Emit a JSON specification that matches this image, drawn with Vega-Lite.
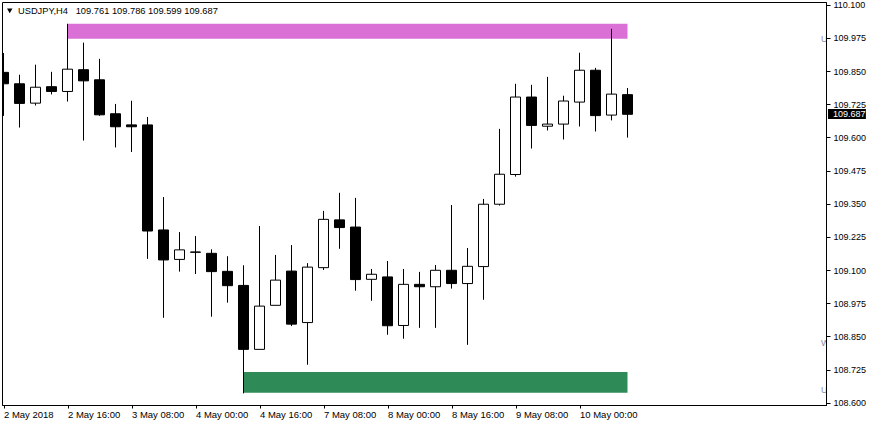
{
  "$schema": "https://vega.github.io/schema/vega-lite/v6.json",
  "width": 824,
  "height": 403,
  "autosize": {"type": "none"},
  "padding": {"left": 2, "top": 2, "right": 43, "bottom": 21},
  "background": "white",
  "config": {
    "view": {"stroke": "black", "strokeWidth": 1},
    "scale": {"continuousPadding": 0},
    "axis": {"grid": false, "domainColor": "black", "tickColor": "black", "labelColor": "black", "labelFont": "Liberation Sans", "domainWidth": 1, "tickWidth": 1, "title": null, "labelOverlap": false, "labelFlush": false},
    "axisY": {"labelOverlap": false, "tickCount": 30},
    "axisX": {"tickCount": 30},
    "text": {"font": "Liberation Sans"}
  },
  "datasets": {
    "candles": [
      {"i": 0, "o": 109.845, "h": 109.918, "l": 109.681, "c": 109.802},
      {"i": 1, "o": 109.802, "h": 109.836, "l": 109.637, "c": 109.728},
      {"i": 2, "o": 109.729, "h": 109.874, "l": 109.720, "c": 109.789},
      {"i": 3, "o": 109.791, "h": 109.847, "l": 109.762, "c": 109.773},
      {"i": 4, "o": 109.773, "h": 110.028, "l": 109.735, "c": 109.857},
      {"i": 5, "o": 109.855, "h": 109.957, "l": 109.588, "c": 109.813},
      {"i": 6, "o": 109.817, "h": 109.896, "l": 109.681, "c": 109.685},
      {"i": 7, "o": 109.689, "h": 109.726, "l": 109.562, "c": 109.640},
      {"i": 8, "o": 109.647, "h": 109.738, "l": 109.545, "c": 109.640},
      {"i": 9, "o": 109.647, "h": 109.677, "l": 109.142, "c": 109.247},
      {"i": 10, "o": 109.251, "h": 109.375, "l": 108.920, "c": 109.138},
      {"i": 11, "o": 109.140, "h": 109.243, "l": 109.094, "c": 109.176},
      {"i": 12, "o": 109.168, "h": 109.228, "l": 109.085, "c": 109.167},
      {"i": 13, "o": 109.163, "h": 109.178, "l": 108.924, "c": 109.094},
      {"i": 14, "o": 109.095, "h": 109.152, "l": 108.977, "c": 109.041},
      {"i": 15, "o": 109.042, "h": 109.118, "l": 108.635, "c": 108.801},
      {"i": 16, "o": 108.801, "h": 109.266, "l": 108.801, "c": 108.964},
      {"i": 17, "o": 108.967, "h": 109.157, "l": 108.967, "c": 109.062},
      {"i": 18, "o": 109.096, "h": 109.194, "l": 108.889, "c": 108.896},
      {"i": 19, "o": 108.902, "h": 109.126, "l": 108.743, "c": 109.111},
      {"i": 20, "o": 109.109, "h": 109.323, "l": 109.100, "c": 109.291},
      {"i": 21, "o": 109.289, "h": 109.391, "l": 109.180, "c": 109.260},
      {"i": 22, "o": 109.262, "h": 109.372, "l": 109.022, "c": 109.064},
      {"i": 23, "o": 109.065, "h": 109.104, "l": 108.984, "c": 109.084},
      {"i": 24, "o": 109.074, "h": 109.134, "l": 108.856, "c": 108.890},
      {"i": 25, "o": 108.891, "h": 109.104, "l": 108.841, "c": 109.046},
      {"i": 26, "o": 109.046, "h": 109.093, "l": 108.882, "c": 109.037},
      {"i": 27, "o": 109.037, "h": 109.119, "l": 108.882, "c": 109.099},
      {"i": 28, "o": 109.099, "h": 109.345, "l": 109.030, "c": 109.049},
      {"i": 29, "o": 109.049, "h": 109.183, "l": 108.818, "c": 109.114},
      {"i": 30, "o": 109.113, "h": 109.368, "l": 108.988, "c": 109.348},
      {"i": 31, "o": 109.348, "h": 109.632, "l": 109.343, "c": 109.461},
      {"i": 32, "o": 109.460, "h": 109.802, "l": 109.452, "c": 109.752},
      {"i": 33, "o": 109.752, "h": 109.798, "l": 109.558, "c": 109.645},
      {"i": 34, "o": 109.642, "h": 109.828, "l": 109.626, "c": 109.650},
      {"i": 35, "o": 109.650, "h": 109.757, "l": 109.592, "c": 109.737},
      {"i": 36, "o": 109.733, "h": 109.919, "l": 109.641, "c": 109.853},
      {"i": 37, "o": 109.853, "h": 109.862, "l": 109.622, "c": 109.682},
      {"i": 38, "o": 109.684, "h": 110.009, "l": 109.664, "c": 109.763},
      {"i": 39, "o": 109.761, "h": 109.786, "l": 109.599, "c": 109.687}
    ],
    "zones": [
      {"x1": 4, "x2": 39, "p1": 109.972, "p2": 110.028, "color": "#DA70D6"},
      {"x1": 15, "x2": 39, "p1": 108.637, "p2": 108.716, "color": "#2E8B57"}
    ],
    "marks": [
      {"i": 51.1, "p": 109.9726, "t": "U"},
      {"i": 51.1, "p": 108.826, "t": "W"},
      {"i": 51.1, "p": 108.648, "t": "U"}
    ],
    "header": [
      {"i": 0.906, "p": 110.078, "t": "USDJPY,H4\u00a0\u00a0\u00a0109.761 109.786 109.599 109.687"}
    ],
    "tri": [
      {"i": 0.39, "p": 110.077}
    ],
    "tag": [
      {"x1": 51.53, "x2": 53.9, "p1": 109.669, "p2": 109.707, "tx": 51.84, "p": 109.687, "t": "109.687"}
    ]
  },
  "layer": [
    {
      "data": {"name": "zones"},
      "mark": {"type": "rect", "clip": true},
      "encoding": {
        "x": {
          "field": "x1", "type": "quantitative",
          "scale": {"domain": [-0.09375, 51.40625], "nice": false, "zero": false, "padding": 0},
          "axis": {
            "values": [0, 4, 8, 12, 16, 20, 24, 28, 32, 36],
            "labelExpr": "['2 May 2018','2 May 16:00','3 May 08:00','4 May 00:00','4 May 16:00','7 May 08:00','8 May 00:00','8 May 16:00','9 May 08:00','10 May 00:00'][round(datum.value/4)]",
            "labelAlign": "left", "labelFlush": false, "labelOverlap": false, "tickCount": 30,
            "tickSize": 3, "labelPadding": 1, "labelFontSize": 9.5, "title": null
          }
        },
        "x2": {"field": "x2"},
        "y": {
          "field": "p1", "type": "quantitative",
          "scale": {"domain": [108.5913, 110.1102], "nice": false, "zero": false, "padding": 0},
          "axis": {
            "orient": "right",
            "values": [108.6, 108.725, 108.85, 108.975, 109.1, 109.225, 109.35, 109.475, 109.6, 109.725, 109.85, 109.975, 110.1],
            "format": ".3f", "tickSize": 4, "labelPadding": 3, "labelFontSize": 9, "tickCount": 30,
            "labelOverlap": false, "labelFlush": false, "title": null
          }
        },
        "y2": {"field": "p2"},
        "color": {"field": "color", "type": "nominal", "scale": null, "legend": null}
      }
    },
    {
      "mark": {"type": "rule", "color": "#c0c0c0", "strokeWidth": 1},
      "encoding": {"y": {"datum": 109.687, "type": "quantitative", "title": null}}
    },
    {
      "data": {"name": "candles"},
      "mark": {"type": "rule", "clip": true, "color": "black", "strokeWidth": 1},
      "encoding": {
        "x": {"field": "i", "type": "quantitative", "title": null},
        "y": {"field": "l", "type": "quantitative", "title": null},
        "y2": {"field": "h"}
      }
    },
    {
      "data": {"name": "candles"},
      "mark": {"type": "bar", "clip": true, "size": 10, "stroke": "black", "strokeWidth": 1},
      "encoding": {
        "x": {"field": "i", "type": "quantitative", "title": null},
        "y": {"field": "o", "type": "quantitative", "title": null},
        "y2": {"field": "c"},
        "fill": {"condition": {"test": "datum.c > datum.o", "value": "white"}, "value": "black"}
      }
    },
    {
      "data": {"name": "marks"},
      "mark": {"type": "text", "align": "left", "baseline": "middle", "fontSize": 9, "color": "#8c8c9c", "clip": true},
      "encoding": {
        "x": {"field": "i", "type": "quantitative", "title": null},
        "y": {"field": "p", "type": "quantitative", "title": null},
        "text": {"field": "t"}
      }
    },
    {
      "data": {"name": "header"},
      "mark": {"type": "text", "align": "left", "baseline": "middle", "fontSize": 9.3, "color": "black"},
      "encoding": {
        "x": {"field": "i", "type": "quantitative", "title": null},
        "y": {"field": "p", "type": "quantitative", "title": null},
        "text": {"field": "t"}
      }
    },
    {
      "data": {"name": "tri"},
      "mark": {"type": "point", "shape": "triangle-down", "filled": true, "size": 30, "color": "black", "opacity": 1},
      "encoding": {
        "x": {"field": "i", "type": "quantitative", "title": null},
        "y": {"field": "p", "type": "quantitative", "title": null}
      }
    },
    {
      "data": {"name": "tag"},
      "mark": {"type": "rect", "color": "black"},
      "encoding": {
        "x": {"field": "x1", "type": "quantitative", "title": null},
        "x2": {"field": "x2"},
        "y": {"field": "p1", "type": "quantitative", "title": null},
        "y2": {"field": "p2"}
      }
    },
    {
      "data": {"name": "tag"},
      "mark": {"type": "text", "align": "left", "baseline": "middle", "fontSize": 9, "color": "white"},
      "encoding": {
        "x": {"field": "tx", "type": "quantitative", "title": null},
        "y": {"field": "p", "type": "quantitative", "title": null},
        "text": {"field": "t"}
      }
    }
  ]
}
